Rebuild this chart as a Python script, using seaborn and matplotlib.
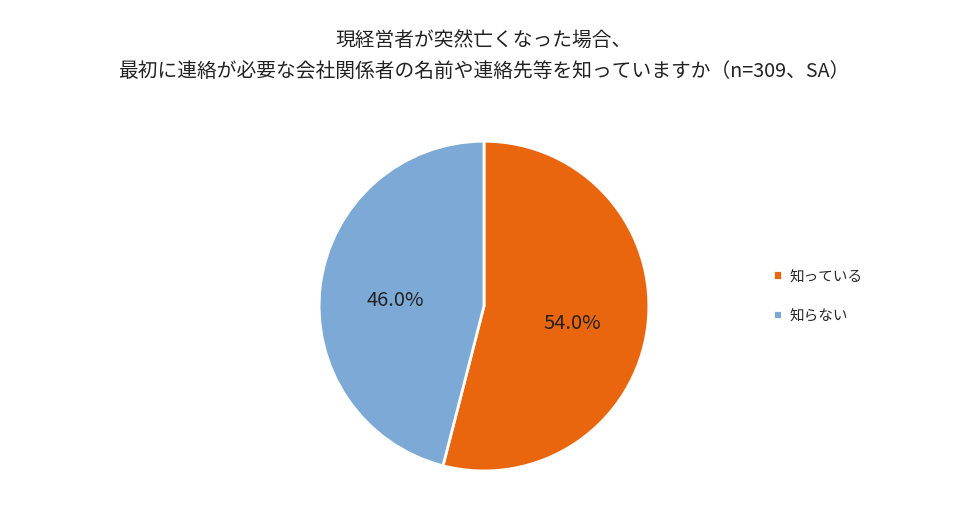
import matplotlib
matplotlib.use('Agg')
import matplotlib.pyplot as plt
import seaborn as sns

# data
labels = ['知っている', '知らない']
values = [54.0, 46.0]
colors = ['#E9660F', '#7DA9D6']
title = '現経営者が突然亡くなった場合、\n最初に連絡が必要な会社関係者の名前や連絡先等を知っていますか（n=309、SA）'

sns.set_theme(style='white')
plt.rcParams['font.family'] = ['Noto Sans CJK JP', 'DejaVu Sans']

fig = plt.figure(figsize=(9.67, 5.21), dpi=100)
ax = fig.add_axes([0.330, 0.096, 0.341, 0.633])

wedges, texts, autotexts = ax.pie(
    values, colors=colors, startangle=90, counterclock=False,
    autopct='%.1f%%', pctdistance=0.54,
    wedgeprops=dict(edgecolor='white', linewidth=2),
    textprops=dict(fontsize=14.5, color='#222222'))
# nudge the percentages down a little, as in the original
for t in autotexts:
    x, y = t.get_position()
    t.set_position((x, y - 0.035))
ax.set_xlim(-1, 1)
ax.set_ylim(-1, 1)
ax.set_aspect('equal')

fig.text(0.5, 0.892, title, ha='center', va='center', fontsize=14.2,
         color='#222222', linespacing=1.6)

fig.legend(wedges, labels, loc='center left', bbox_to_anchor=(0.786, 0.432),
           frameon=False, fontsize=10.5, handlelength=0.6, handleheight=0.6,
           handletextpad=0.5, labelspacing=1.75)

fig.savefig('out.png', dpi=100)
